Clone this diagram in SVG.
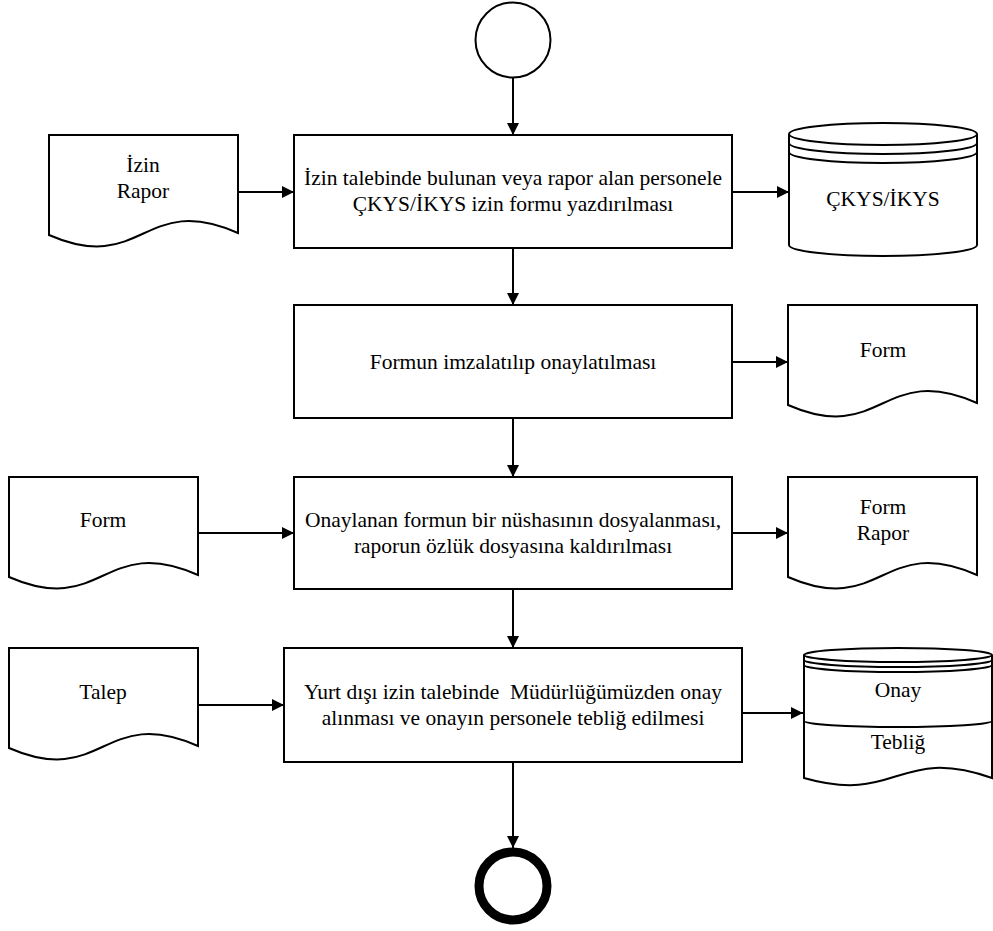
<svg xmlns="http://www.w3.org/2000/svg" width="993" height="931" viewBox="0 0 993 931">
  <defs>
    <marker id="arrow" markerWidth="12" markerHeight="12" refX="12" refY="6" orient="auto" markerUnits="userSpaceOnUse">
      <path d="M0,0 L12,6 L0,12 Z" fill="#000"/>
    </marker>
  </defs>
  <style>
    .shape { fill: #fff; stroke: #000; stroke-width: 2; }
    .line { fill: none; stroke: #000; stroke-width: 2; }
    .conn { fill: none; stroke: #000; stroke-width: 2; marker-end: url(#arrow); }
    text { font-family: "Liberation Serif", "DejaVu Serif", serif; font-size: 21.5px; fill: #000; text-anchor: middle; dominant-baseline: central; }
  </style>
  <rect width="993" height="931" fill="#fff"/>

  <!-- connectors -->
  <g id="connectors">
    <path class="conn" d="M513,78 V135"/>
    <path class="conn" d="M513,248 V305"/>
    <path class="conn" d="M513,418 V477"/>
    <path class="conn" d="M513,589 V648"/>
    <path class="conn" d="M513,762 V848"/>
    <path class="conn" d="M238,192 H294"/>
    <path class="conn" d="M732,192 H789"/>
    <path class="conn" d="M732,362 H788"/>
    <path class="conn" d="M198,533 H294"/>
    <path class="conn" d="M732,533 H788"/>
    <path class="conn" d="M198,705 H284"/>
    <path class="conn" d="M742,713 H803"/>
  </g>

  <!-- start / end -->
  <g id="start">
    <circle class="shape" cx="513" cy="40" r="37.5"/>
  </g>
  <g id="end">
    <circle cx="513" cy="886" r="34" fill="#fff" stroke="#000" stroke-width="9"/>
  </g>

  <!-- process steps -->
  <g id="step1">
    <rect class="shape" x="294" y="135" width="438" height="113"/>
    <text x="513" y="178">İzin talebinde bulunan veya rapor alan personele</text>
    <text x="513" y="204">ÇKYS/İKYS izin formu yazdırılması</text>
  </g>
  <g id="step2">
    <rect class="shape" x="294" y="305" width="438" height="113"/>
    <text x="513" y="362">Formun imzalatılıp onaylatılması</text>
  </g>
  <g id="step3">
    <rect class="shape" x="294" y="477" width="438" height="112"/>
    <text x="513" y="520">Onaylanan formun bir nüshasının dosyalanması,</text>
    <text x="513" y="546">raporun özlük dosyasına kaldırılması</text>
  </g>
  <g id="step4">
    <rect class="shape" x="284" y="648" width="458" height="114"/>
    <text x="513" y="692" xml:space="preserve">Yurt dışı izin talebinde  Müdürlüğümüzden onay</text>
    <text x="513" y="718">alınması ve onayın personele tebliğ edilmesi</text>
  </g>

  <!-- documents -->
  <g id="doc-izin-rapor">
    <path class="shape" d="M49,135 H238 V233 C143,191 143,276 49,235 Z"/>
    <text x="143" y="165">İzin</text>
    <text x="143" y="191">Rapor</text>
  </g>
  <g id="doc-form-1">
    <path class="shape" d="M788,305 H977 V403 C882,361 882,446 788,405 Z"/>
    <text x="883" y="350">Form</text>
  </g>
  <g id="doc-form-2">
    <path class="shape" d="M9,477 H198 V575 C103,533 103,618 9,577 Z"/>
    <text x="103" y="520">Form</text>
  </g>
  <g id="doc-form-rapor">
    <path class="shape" d="M788,477 H977 V575 C882,533 882,618 788,577 Z"/>
    <text x="883" y="507">Form</text>
    <text x="883" y="533">Rapor</text>
  </g>
  <g id="doc-talep">
    <path class="shape" d="M9,648 H198 V746 C103,704 103,789 9,748 Z"/>
    <text x="103" y="692">Talep</text>
  </g>

  <!-- data stores -->
  <g id="store-ckys">
    <path class="shape" d="M789,134 A94,11 0 0 1 977,134 V245 A94,11 0 0 1 789,245 Z"/>
    <path class="line" d="M789,134 A94,11 0 0 0 977,134"/>
    <path class="line" d="M789,143 A94,11 0 0 0 977,143"/>
    <path class="line" d="M789,152 A94,11 0 0 0 977,152"/>
    <text x="883" y="199">ÇKYS/İKYS</text>
  </g>
  <g id="store-onay">
    <path class="shape" d="M804,655 A94,7 0 0 1 992,655 V778 C898,745 898,805 804,778 Z"/>
    <path class="line" d="M804,655 A94,7 0 0 0 992,655"/>
    <path class="line" d="M804,660 A94,7 0 0 0 992,660"/>
    <path class="line" d="M804,665 A94,7 0 0 0 992,665"/>
    <path class="line" d="M804,721 A94,6 0 0 0 992,721"/>
    <text x="898" y="690">Onay</text>
    <text x="898" y="742">Tebliğ</text>
  </g>
</svg>
